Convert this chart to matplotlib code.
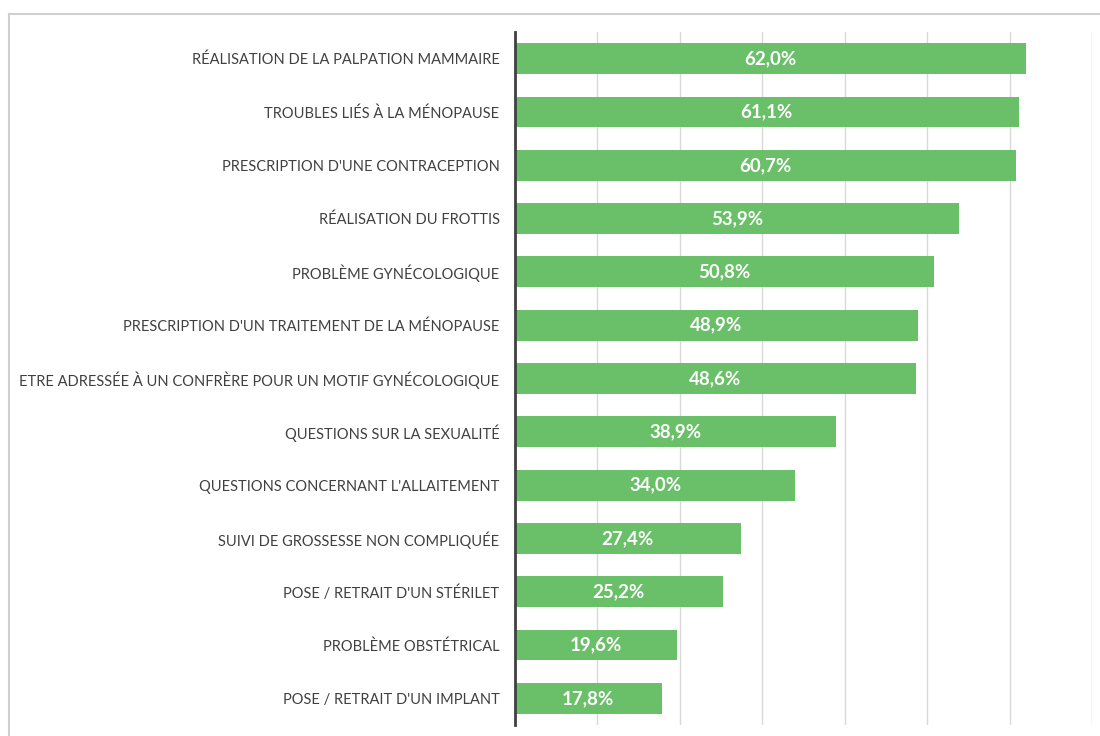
import matplotlib
matplotlib.use("Agg")
import matplotlib.pyplot as plt
from matplotlib.lines import Line2D

plt.rcParams['font.family'] = ['Lato', 'DejaVu Sans']

# data (top to bottom as in the picture)
labels = [
    "RÉALISATION DE LA PALPATION MAMMAIRE",
    "TROUBLES LIÉS À LA MÉNOPAUSE",
    "PRESCRIPTION D'UNE CONTRACEPTION",
    "RÉALISATION DU FROTTIS",
    "PROBLÈME GYNÉCOLOGIQUE",
    "PRESCRIPTION D'UN TRAITEMENT DE LA MÉNOPAUSE",
    "ETRE ADRESSÉE À UN CONFRÈRE POUR UN MOTIF GYNÉCOLOGIQUE",
    "QUESTIONS SUR LA SEXUALITÉ",
    "QUESTIONS CONCERNANT L'ALLAITEMENT",
    "SUIVI DE GROSSESSE NON COMPLIQUÉE",
    "POSE / RETRAIT D'UN STÉRILET",
    "PROBLÈME OBSTÉTRICAL",
    "POSE / RETRAIT D'UN IMPLANT",
]
values = [62.0, 61.1, 60.7, 53.9, 50.8, 48.9, 48.6, 38.9, 34.0, 27.4, 25.2, 19.6, 17.8]

green = '#6abf69'

fig = plt.figure(figsize=(11, 7.36), dpi=100, facecolor='white')
ax = fig.add_axes([0.468, 0.015, 0.525, 0.9415])

ypos = list(range(len(values)))
ax.barh(ypos, values, height=0.58, color=green, zorder=3)

for y, v in zip(ypos, values):
    ax.text(v / 2, y, f"{v:.1f}%".replace('.', ','), ha='center', va='center',
            color='white', fontsize=13.5, fontweight='bold', zorder=4)

ax.set_yticks(ypos)
ax.set_yticklabels(labels, fontsize=10.5, color='#404040')
ax.tick_params(axis='y', length=0, pad=11)
ax.set_ylim(len(values) - 0.5, -0.5)
ax.set_xlim(0, 70)
ax.set_xticks(range(0, 71, 10))
ax.tick_params(axis='x', length=0, labelbottom=False)
ax.grid(axis='x', color='#d9d9d9', lw=1, zorder=0)

for s in ['top', 'right', 'bottom']:
    ax.spines[s].set_visible(False)
ax.spines['left'].set_color('#404040')
ax.spines['left'].set_linewidth(2)
ax.spines['left'].set_zorder(5)

# light frame around the chart area
fig.add_artist(Line2D([9 / 1100, 1.0], [1 - 14 / 736, 1 - 14 / 736],
                      color='#d0d0d0', lw=1.5, transform=fig.transFigure))
fig.add_artist(Line2D([9 / 1100, 9 / 1100], [0, 1 - 14 / 736],
                      color='#d0d0d0', lw=1.5, transform=fig.transFigure))

fig.savefig('out.png', dpi=100, facecolor='white')
